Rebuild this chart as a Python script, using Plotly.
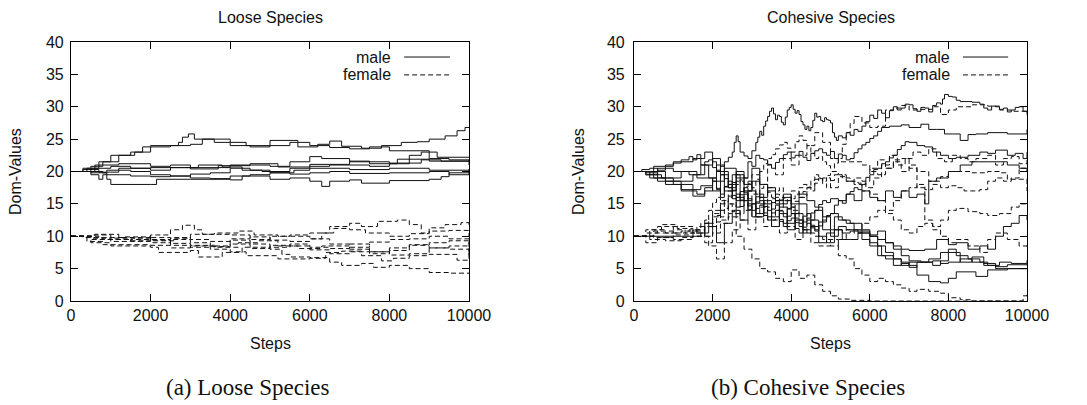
import plotly.graph_objects as go

# ---------------- data (step, value) breakpoints ----------------
STEP_TICKS = [0, 2000, 4000, 6000, 8000, 10000]
STEP_LABELS = ["0", "2000", "4000", "6000", "8000", "10000"]
DOM_TICKS = [0, 5, 10, 15, 20, 25, 30, 35, 40]

loose_male = [
    [(0,20),(300,20.5),(700,21.5),(1000,22.5),(1500,23),(1800,23.8),(2000,24),(2700,24.5),(2800,25.3),(2950,25.8),(3100,25),(3500,25),(4000,24.5),(4400,24),(5000,24.8),(5600,24.8),(5700,23.8),(6200,24.2),(6500,24.7),(6800,23.9),(7300,23.6),(7800,24),(8300,24.5),(8700,24.6),(9000,25),(9400,25.5),(9700,26.3),(9900,26.8),(10000,26.8)],
    [(0,20),(500,20.8),(800,21.5),(1200,22.5),(1600,23),(2000,23.8),(2500,24),(3000,24.2),(3300,25),(3600,24.5),(4000,24),(4500,23.8),(5000,24),(5500,24.5),(6000,24),(6500,23.7),(7000,23.5),(7500,23.8),(8000,23.2),(9000,23),(9200,22.2),(10000,22.2)],
    [(0,20),(600,21),(1200,21.2),(2000,20.8),(2500,21),(3000,20.6),(4000,21),(5000,20.8),(5500,21.5),(6000,22.3),(6300,22),(7000,21.5),(8000,21.2),(8500,22.5),(8800,23),(9000,22),(9500,21.8),(10000,21.5)],
    [(0,20),(400,20.5),(1000,20.8),(1500,20.5),(2000,20.2),(2500,20.6),(3200,21),(3800,20.7),(4300,20.2),(4800,20),(5500,20.5),(6000,20.8),(6500,21),(7000,21),(7500,20.8),(8000,21.3),(8800,21.8),(9300,21.6),(10000,21)],
    [(0,20),(500,19.8),(900,20.2),(1500,20),(2000,19.5),(2500,19.3),(3000,19.6),(3500,19.8),(4000,20.5),(4500,20.2),(5000,19.8),(5600,20.2),(6000,20.5),(7000,20.3),(8000,20.5),(9000,20.2),(10000,20.4)],
    [(0,20),(400,20),(800,19.8),(900,18.8),(1000,18),(2000,18),(2150,18.8),(3000,18.8),(4000,18.7),(4300,19.3),(5000,18.8),(5500,19),(6000,18.5),(6300,17.7),(6500,18.5),(7000,18.7),(7300,18.2),(8000,18.6),(9000,18.8),(9300,19.2),(9500,19.8),(10000,20)],
    [(0,20),(500,19.5),(700,18.8),(800,19.5),(1500,19.3),(2000,19.2),(2500,19.3),(3000,19),(3500,18.9),(4000,19.3),(4500,19.5),(5000,19.8),(5500,19.6),(6000,19.8),(6500,20),(7000,19.7),(8000,19.8),(9000,20),(9500,19.5),(10000,20.2)],
    [(0,20),(300,20.3),(700,19.9),(1200,20.5),(2000,20.6),(3000,20.4),(3700,20.9),(4500,21.2),(5200,20.7),(6000,21.1),(7000,21.6),(7500,21.2),(8200,21.9),(9000,21.6),(10000,21.6)],
]

loose_female = [
    [(0,10),(500,9.5),(1000,9.2),(1500,9.5),(2000,10.2),(2500,11),(2800,11.7),(3100,11),(3300,10.3),(4000,10.2),(4500,9.5),(5000,10),(5500,10.2),(6000,10.5),(6500,11.5),(7000,12),(7300,11.5),(7700,12.3),(8200,12.5),(8500,11.8),(8800,10.5),(9000,11.3),(9400,11.8),(9800,12.1),(10000,11.5)],
    [(0,10),(600,10.3),(1200,9.8),(2000,9.5),(2500,9.7),(3000,10.3),(3600,10.5),(4200,10.8),(4600,10.2),(5200,10),(6000,9.6),(6300,10.5),(6600,11.2),(7000,11),(7400,10.5),(8000,10),(8500,10.4),(9000,10.8),(9500,10.9),(10000,10)],
    [(0,10),(500,9),(1000,8.5),(2000,8.3),(2200,7.5),(3000,7.8),(3200,6.8),(3800,7.5),(4300,8.3),(5000,8),(5300,7.2),(5500,6.8),(6000,6.7),(6500,6),(6800,5.5),(7300,5.8),(7600,5.2),(8000,5.5),(8500,5),(9000,4.4),(9500,4.3),(10000,4.2)],
    [(0,10),(400,9.2),(800,8.7),(1500,8.7),(2000,8.6),(2500,8.2),(3000,8.5),(3500,8),(4000,7.6),(4400,7),(4800,7),(5200,6.5),(6000,6.6),(6400,7.5),(6800,7.7),(7300,7),(7800,6.2),(8100,6.6),(8500,7),(9000,7.2),(9700,6.3),(10000,8.2)],
    [(0,10),(300,9.8),(800,9.5),(1500,9.3),(2000,9.8),(2500,9.5),(3000,9),(3500,8.5),(4000,9.4),(4500,8.8),(5000,8.3),(5500,8.8),(6000,8.3),(6500,8.1),(7000,8.8),(7500,7.6),(8000,8.2),(8500,8.7),(9000,8.2),(9500,8),(10000,7.2)],
    [(0,10),(500,9.7),(1000,9.5),(1500,9.2),(2000,9),(2500,8.6),(3000,8.3),(3500,8.4),(4000,8.8),(4500,8.1),(5000,8.6),(5500,8.5),(6000,7.9),(6500,7.3),(7000,7.6),(7500,7.3),(8000,7.8),(8500,8.6),(9000,9),(9500,9.3),(10000,9.6)],
    [(0,10),(700,9.8),(1300,9.9),(2000,9.3),(2600,9.8),(3000,9.5),(3500,9.2),(4000,9.6),(4500,9.9),(5000,9.4),(5500,9.2),(6000,9.6),(6500,8.8),(7000,8.3),(7500,9.1),(8000,9.5),(8500,9.6),(9000,10),(9500,9.6),(10000,6.6)],
    [(0,10),(500,10.2),(1000,9.7),(1600,9.6),(2000,9.4),(2500,8.9),(3000,8.6),(3600,8.3),(4200,9),(4700,9.3),(5200,8.5),(5700,8.1),(6300,8.5),(7000,8),(7500,7.6),(8000,7.1),(8500,7.3),(9000,8.2),(9500,8.5),(10000,9.2)],
]

cohesive_male = [
    [(0,20),(200,20.3),(400,20.5),(600,20.2),(800,21),(1000,21.3),(1200,21.8),(1400,22.3),(1500,21.8),(1600,22.6),(1700,21),(1800,21.5),(1900,21.8),(2000,20.6),(2100,20),(2200,20.8),(2300,21.5),(2400,22.2),(2500,23),(2550,24.5),(2600,25.5),(2650,24.6),(2700,23),(2800,22.4),(2900,22),(3000,23.2),(3100,24.5),(3150,25.3),(3200,26.2),(3250,25.6),(3300,27),(3350,27.8),(3400,28.5),(3450,29.3),(3500,29.8),(3550,28.9),(3600,28),(3650,28.7),(3700,28.5),(3750,27.6),(3800,27.2),(3850,28.4),(3900,29.5),(3950,29.9),(4000,30.3),(4050,29.6),(4100,29),(4150,29.4),(4200,28.8),(4250,27.7),(4300,27.2),(4350,26.5),(4400,27),(4450,26.3),(4500,26.8),(4550,27.9),(4600,29),(4650,28.4),(4700,28.5),(4750,27.9),(4800,27.7),(4850,28.3),(4900,28),(4950,27.9),(5000,27.5),(5050,26),(5100,25.3),(5150,24.8),(5200,25.5),(5300,25.2),(5400,26),(5500,25.6),(5600,26.5),(5700,26.2),(5800,27),(5900,27.7),(6000,28.7),(6100,28.2),(6200,29.5),(6300,29),(6400,28.3),(6500,29.4),(6600,30),(6700,29.5),(6800,29.8),(6900,30.4),(7000,30.3),(7100,29.7),(7200,29.3),(7300,29.9),(7400,29.8),(7500,29.2),(7600,30.2),(7700,30.6),(7800,30.4),(7850,31.2),(7900,31.9),(8000,31.6),(8100,31.5),(8200,31),(8300,30.8),(8500,30.8),(8600,30.7),(8800,30.4),(8900,29.8),(9000,29.5),(9100,30.1),(9200,30),(9300,29.6),(9400,29.8),(9500,29.2),(9600,29.5),(9700,29.9),(9800,30),(9900,29.3),(10000,28.8)],
    [(0,20),(300,19.5),(700,19),(1200,20),(1600,19),(2000,18.5),(2300,20.5),(2600,19),(2900,21.5),(3000,20.8),(3100,22.5),(3200,22),(3300,21.8),(3400,21.1),(3500,20.5),(3600,21.4),(3700,22),(3800,22.6),(3900,23),(4000,22.1),(4100,22.5),(4200,23.1),(4300,22.2),(4400,21.7),(4500,22.8),(4600,23.2),(4700,23.5),(4800,22.9),(4900,22.5),(5000,23.1),(5100,22),(5200,22.7),(5300,22.5),(5400,21.8),(5500,22),(5600,22.9),(5700,23.5),(5800,24.1),(5900,24.5),(6000,25.1),(6100,25.5),(6200,26.2),(6300,26.8),(6500,27),(6800,27.2),(7000,26.8),(7300,27.3),(7500,26.5),(7700,26.5),(7900,25.8),(8100,25.8),(8300,24.8),(8500,25.7),(8700,25.8),(9000,26),(9500,25.8),(9800,25.8),(10000,26.5)],
    [(0,20),(500,20.8),(1000,21.5),(1500,22),(1800,23),(2000,21.5),(2100,20.2),(2200,19.5),(2300,18.9),(2400,17.5),(2500,18.3),(2600,16),(2700,16.9),(2800,17.5),(2900,15.8),(3000,15),(3100,16.1),(3200,16.5),(3300,14.6),(3400,14),(3500,15.2),(3600,15.5),(3700,13.9),(3800,13),(3900,14.2),(4000,14.5),(4100,12.8),(4200,12),(4300,13.1),(4400,13.5),(4500,11.7),(4600,11),(4700,12.2),(4800,12.5),(4900,13.2),(5000,13.5),(5100,14.8),(5200,15.5),(5300,15.1),(5400,16.5),(5500,16.9),(5600,17.5),(5700,17.2),(5800,18),(5900,19.1),(6000,19.5),(6100,20.3),(6200,20.5),(6300,21.2),(6400,21.5),(6500,22.1),(6600,22.5),(6700,23.4),(6800,24),(6900,24.6),(7000,24.5),(7200,24),(7400,23.8),(7600,23),(7800,22.5),(8000,22),(8200,22.2),(8500,22.5),(8800,23),(9000,22.8),(9200,23.3),(9500,22.5),(9700,22.8),(9900,22),(10000,23)],
    [(0,20),(300,19.8),(600,18.5),(1000,18),(1500,17.2),(1700,17.8),(2000,18.5),(2100,17.4),(2200,16.5),(2300,17.6),(2400,18),(2500,16.3),(2600,15.5),(2700,16.4),(2800,16.8),(2900,14.7),(3000,14),(3100,15.1),(3200,15.5),(3300,13.6),(3400,13),(3500,14.2),(3600,14.8),(3700,12.6),(3800,12),(3900,13.1),(4000,13.5),(4100,12.1),(4200,11.5),(4300,12.2),(4400,12.8),(4500,13.6),(4600,14),(4700,14.9),(4800,15.5),(4900,15.2),(5000,15.8),(5200,15.5),(5400,16.5),(5600,15.5),(5800,17),(6000,16),(6200,15.5),(6400,17),(6600,16),(6800,17),(7000,16),(7200,16.5),(7400,15),(7500,18.5),(7700,19),(8000,20),(8300,21),(8600,21.5),(9000,21.5),(9500,21),(9800,20.5),(10000,20)],
    [(0,20),(400,19),(800,18.5),(1200,17),(1600,16.5),(1800,17),(2000,19),(2100,17.2),(2200,16),(2300,17.7),(2400,18.5),(2500,15.8),(2600,14.5),(2700,15.6),(2800,16.5),(2900,14.1),(3000,13),(3100,14.3),(3200,14.8),(3300,13.2),(3400,12.5),(3500,13.6),(3600,14),(3700,12.3),(3800,11.5),(3900,12.4),(4000,12.8),(4100,11.2),(4200,10.5),(4300,11.4),(4400,12),(4500,11.3),(4600,10.8),(4700,11.6),(4800,12.2),(4900,13.1),(5000,13.5),(5200,12.5),(5400,12),(5600,11),(5800,10.8),(6000,10),(6200,9.5),(6400,9),(6600,8.5),(6800,8),(7000,7.8),(7400,8),(7700,9.5),(8000,8.7),(8200,9),(8500,8),(8800,8.5),(9000,8),(9200,10),(9400,11.5),(9600,12),(9800,13.2),(10000,12.5)],
    [(0,20),(300,19.5),(600,20.5),(1000,20),(1400,19.5),(1700,21),(1900,19),(2100,21),(2300,17),(2500,19.5),(2700,15.5),(2900,17),(3100,13.5),(3300,15),(3500,11.5),(3700,13.5),(3900,11),(4100,12.5),(4300,10.5),(4500,11.5),(4700,9),(4900,10.5),(5100,13),(5300,12.5),(5500,12),(5800,11),(6000,10),(6200,8.5),(6400,7.5),(6600,6.5),(6800,6),(7000,5.5),(7200,4),(7500,3),(7800,2.8),(8000,3.5),(8200,4.5),(8500,4.5),(8700,3.8),(9000,4.8),(9500,5),(10000,5)],
    [(0,10),(1500,10),(1700,10.5),(1900,11.5),(2100,9),(2300,12),(2500,14),(2700,12.5),(2900,15),(3100,13),(3300,15.5),(3500,13),(3700,14.5),(3900,12),(4100,13.5),(4300,11),(4500,12.5),(4700,10),(4900,9),(5100,11),(5300,10.5),(5500,10.8),(5800,9.5),(6000,9),(6200,7),(6400,6.5),(6600,5.5),(6800,5.8),(7000,5.2),(7200,6),(7500,6.5),(7800,7.5),(8000,8),(8200,7),(8500,6.5),(8800,6),(9000,5.5),(9300,6),(9600,5.8),(10000,6.3)],
    [(0,20),(500,19),(1000,18.5),(1500,19.5),(1800,21),(2000,22),(2200,20),(2400,18),(2600,19.5),(2800,17),(3000,18.5),(3200,16),(3400,17.5),(3600,15),(3800,16),(4000,13.5),(4200,15),(4400,12.5),(4600,14),(4800,11),(5000,10),(5200,11.5),(5400,11),(5700,10.5),(6000,8.5),(6300,7),(6600,6.5),(6800,5.5),(7000,6),(7300,6),(7600,5.5),(7800,6.2),(8000,7.5),(8300,6),(8600,6.8),(8900,5.8),(9200,5.3),(9500,5.6),(10000,5.5)],
    [(0,20),(800,18),(1200,17.2),(1500,16.2),(1800,17.5),(2000,17),(2200,19.5),(2400,17.5),(2600,20),(2800,18),(3000,20.5),(3200,18),(3400,17),(3600,15.5),(3800,16.5),(4000,15),(4200,16.5),(4400,15.5),(4600,14.5),(4800,13),(5000,11),(5300,9.5),(5500,9.5),(5700,10.5),(6000,10.2),(6200,10.8),(6400,9),(6600,8),(6800,7),(7000,6.2),(7300,6),(7600,6.2),(7800,5.8),(8000,6),(8300,6.5),(8600,6),(8900,5.5),(9200,5),(9600,5),(10000,5)],
]

cohesive_female = [
    [(0,10),(300,10.5),(600,11.5),(1000,11),(1300,10.5),(1600,11.5),(1800,10),(2000,12),(2100,13.2),(2200,14),(2300,15.3),(2400,16),(2500,17.1),(2600,18),(2700,18.7),(2800,19),(2900,18.1),(3000,17.5),(3100,18.8),(3200,20),(3300,21.2),(3400,22),(3500,22.6),(3600,23.5),(3700,24.1),(3800,24.5),(3900,23.6),(4000,23),(4100,24.6),(4200,25.5),(4300,24.8),(4400,24),(4500,22.8),(4600,22),(4700,22.3),(4800,21.5),(4900,20.9),(5000,20.5),(5100,21.3),(5200,22),(5300,24.2),(5400,26),(5500,27.4),(5600,28.5),(5800,27.5),(6000,26.8),(6200,27),(6400,29.5),(6600,29.8),(6800,30.2),(7000,29.5),(7300,29.6),(7600,30),(7800,28.8),(8000,29.5),(8200,30),(8600,30.3),(9000,30.1),(9300,29.5),(9600,29.3),(10000,29.5)],
    [(0,10),(500,9.8),(1000,9.5),(1500,10.5),(1800,9),(2000,10.5),(2200,12),(2400,13),(2600,10),(2800,8),(3000,6.5),(3200,5),(3400,4.5),(3600,3.5),(3800,3),(4000,4.8),(4200,3.5),(4400,4),(4600,2.5),(4800,1.5),(5000,0.8),(5200,0.3),(5500,0.1),(6000,0),(10000,0)],
    [(0,10),(400,11),(800,10.5),(1200,10.8),(1600,10),(1900,8.5),(2100,6.5),(2300,9),(2500,11),(2700,12.5),(2900,11),(3100,13),(3300,11.5),(3500,12.5),(3700,10.5),(3900,11.5),(4100,9.5),(4300,11),(4500,9),(4700,8.5),(5000,9.5),(5200,7),(5400,6.5),(5600,5),(5800,4),(6000,3),(6200,3.5),(6400,3),(6600,2.5),(6800,2),(7000,1.5),(7200,1.8),(7500,1.5),(7800,1.2),(8000,0.5),(8300,0.2),(8600,0),(9800,0),(9900,0.8),(10000,1)],
    [(0,10),(300,9),(600,9.8),(1000,10.2),(1400,11),(1700,12),(1900,14),(2000,15.2),(2100,16),(2200,15.6),(2300,15),(2400,16.2),(2500,17),(2600,16.5),(2700,16),(2800,17.6),(2900,18.5),(3000,17.3),(3100,16.5),(3200,17.4),(3300,18),(3400,16.8),(3500,16),(3600,17),(3700,17.5),(3800,15.9),(3900,15),(4000,15.8),(4100,16.5),(4200,17.5),(4300,18),(4400,17.6),(4500,17),(4600,18.2),(4700,19),(4800,18.1),(4900,17.5),(5000,18.6),(5100,19.5),(5300,19),(5500,18.5),(5700,18.2),(5900,17.5),(6100,19),(6300,21),(6500,22.5),(6700,21),(6900,22),(7100,23),(7300,22.5),(7500,23.5),(7700,22),(7900,21.5),(8100,22.5),(8300,22),(8500,21.5),(8700,22),(9000,22.5),(9200,21),(9400,22),(9600,22.3),(9800,21.2),(10000,22)],
    [(0,10),(500,10.5),(1000,11.5),(1500,10.5),(1800,12),(2000,14),(2200,12.5),(2400,15),(2600,13.5),(2800,15.5),(3000,13),(3200,14.5),(3400,12.5),(3600,14),(3800,15.5),(4000,17),(4200,16),(4400,17.5),(4600,18.8),(4800,19),(5000,17.5),(5200,19.2),(5400,18.5),(5600,19),(5800,18.5),(6000,20.5),(6200,21.8),(6400,20.5),(6600,21.8),(6800,22),(7000,20.5),(7200,17.5),(7400,12.5),(7600,11.5),(7800,12.5),(8000,14),(8200,14.3),(8500,13.8),(8800,13.5),(9000,13.2),(9300,13.5),(9600,14.5),(9800,15),(10000,15)],
    [(0,10),(400,9.5),(800,9.3),(1200,9.8),(1500,10),(1800,12),(2000,13.5),(2200,15),(2400,13.5),(2600,16),(2800,14),(3000,16.5),(3200,15),(3400,17.5),(3600,16),(3800,15.5),(4000,14),(4200,12.5),(4400,10.5),(4600,10),(4800,9.5),(5000,8.5),(5200,9.5),(5400,11),(5600,10.5),(5800,12),(6000,13),(6200,14),(6400,13.5),(6600,12.5),(6800,11),(7000,10.5),(7200,11.5),(7400,12),(7600,11),(7800,10),(8000,9),(8200,9.5),(8500,8.5),(8800,7.5),(9000,9.5),(9200,10.5),(9500,9.5),(9800,8.5),(10000,8)],
    [(0,10),(300,11),(700,11.8),(1100,11.2),(1500,10.8),(1800,11.5),(2000,13),(2200,15.5),(2400,17),(2600,18.5),(2800,17),(3000,19.5),(3200,18),(3400,21),(3600,19.5),(3800,22),(4000,21),(4200,22.5),(4400,24),(4600,26),(4800,24.5),(5000,22),(5200,21.5),(5500,21.5),(5800,21),(6000,20),(6200,19.5),(6400,20.5),(6600,21.5),(6800,20),(7000,21),(7200,20),(7500,18.5),(7800,19.2),(8000,20),(8300,20),(8600,19.8),(9000,20),(9300,19.8),(9500,18.8),(9800,18.8),(10000,17)],
    [(0,10),(500,10.8),(1000,10.5),(1500,11),(1800,12.5),(1900,11.6),(2000,11),(2100,12.2),(2200,13),(2300,14.3),(2400,15),(2500,13.8),(2600,13),(2700,14.6),(2800,15.5),(2900,14.6),(3000,14),(3100,15.3),(3200,16),(3300,15.1),(3400,14.5),(3500,15.8),(3600,16.5),(3700,15.6),(3800,15),(3900,14.3),(4000,14.5),(4100,15.4),(4200,16),(4300,16.9),(4400,17.5),(4500,18.6),(4600,19.5),(4700,18.9),(4800,18.5),(4900,19.4),(5000,20),(5200,19.5),(5400,18.5),(5600,18),(5800,17),(6000,16.5),(6200,15.5),(6400,14),(6600,15.5),(6800,17),(7000,17.5),(7200,18),(7400,17.2),(7600,18),(7800,17.5),(8000,17.8),(8200,17.5),(8400,17),(8600,17),(8800,17.2),(9000,18.5),(9200,19),(9400,18.5),(9600,19),(9800,20.5),(10000,20)],
]

PANEL_TITLES = ["Loose Species", "Cohesive Species"]
CAPTIONS = ["(a) Loose Species", "(b) Cohesive Species"]
LEGEND_LABELS = ["male", "female"]

# ---------------- figure ----------------
W, H = 1087, 405
OFF = 8  # page body margin: the figure is drawn 8px in from the window's corner
SANS = "Liberation Sans, Arial, sans-serif"
SERIF = "Liberation Serif, DejaVu Serif, serif"
DASH = "5px,3px"


def px(xp):
    return (xp - OFF) / W


def py(yp):
    return 1 - (yp - OFF) / H


fig = go.Figure()


def add_series(series_list, axis_suffix, dashed):
    for s in series_list:
        xs = [p[0] for p in s]
        ys = [p[1] for p in s]
        fig.add_trace(go.Scatter(
            x=xs, y=ys, mode="lines", line_shape="hv",
            line=dict(color="#111111", width=1.0, dash=DASH if dashed else "solid"),
            xaxis="x" + axis_suffix, yaxis="y" + axis_suffix,
            showlegend=False, hoverinfo="skip"))


add_series(loose_male, "", False)
add_series(loose_female, "", True)
add_series(cohesive_male, "2", False)
add_series(cohesive_female, "2", True)

left_box = (71, 469)
right_box = (634, 1027)
top_px, bot_px = 42, 301
ydom = [py(bot_px), py(top_px)]

axis_common = dict(
    showgrid=False, zeroline=False, showline=True, linecolor="black", automargin=False,
    linewidth=1.2, mirror="ticks", ticks="inside", ticklen=7, tickwidth=1.2,
    tickcolor="black", tickfont=dict(family=SANS, size=16, color="#111"),
)

fig.update_layout(
    width=W, height=H, paper_bgcolor="white", plot_bgcolor="white",
    margin=dict(l=0, r=0, t=0, b=0, autoexpand=False), showlegend=False,
    xaxis=dict(axis_common, domain=[px(left_box[0]), px(left_box[1])], range=[0, 10000],
               tickvals=STEP_TICKS, ticktext=STEP_LABELS, anchor="y"),
    yaxis=dict(axis_common, domain=ydom, range=[0, 40], tickvals=DOM_TICKS, anchor="x",
               ticklabelstandoff=3),
    xaxis2=dict(axis_common, domain=[px(right_box[0]), px(right_box[1])], range=[0, 10000],
                tickvals=STEP_TICKS, ticktext=STEP_LABELS, anchor="y2"),
    yaxis2=dict(axis_common, domain=ydom, range=[0, 40], tickvals=DOM_TICKS, anchor="x2",
                ticklabelstandoff=5),
)

annotations = []
shapes = []
for i, (box, xr) in enumerate([(left_box, "x"), (right_box, "x2")]):
    cx = (box[0] + box[1]) / 2
    annotations.append(dict(text=PANEL_TITLES[i], x=px(cx), y=py(17), xref="paper", yref="paper",
                            showarrow=False, font=dict(family=SANS, size=16, color="#111"),
                            xanchor="center", yanchor="middle"))
    annotations.append(dict(text="Steps", x=px(cx), y=py(343), xref="paper", yref="paper",
                            showarrow=False, font=dict(family=SANS, size=16, color="#111"),
                            xanchor="center", yanchor="middle"))
    ytx = 15 if i == 0 else 578
    annotations.append(dict(text="Dom-Values", x=px(ytx), y=py(172), xref="paper", yref="paper",
                            showarrow=False, textangle=-90, font=dict(family=SANS, size=16, color="#111"),
                            xanchor="center", yanchor="middle"))
    capx = 248 if i == 0 else 808
    annotations.append(dict(text=CAPTIONS[i], x=px(capx), y=py(387), xref="paper", yref="paper",
                            showarrow=False, font=dict(family=SERIF, size=23, color="#111"),
                            xanchor="center", yanchor="middle"))
    for j, lab in enumerate(LEGEND_LABELS):
        ly = 0.942 if j == 0 else 0.873
        annotations.append(dict(text=lab, x=0.809, y=ly, xref=xr + " domain", yref="y" + xr[1:] + " domain",
                                showarrow=False, font=dict(family=SANS, size=16, color="#111"),
                                xanchor="right", yanchor="middle"))
        shapes.append(dict(type="line", xref=xr + " domain", yref="y" + xr[1:] + " domain",
                           x0=0.837, x1=0.952, y0=ly, y1=ly,
                           line=dict(color="#111", width=1.0, dash="solid" if j == 0 else DASH)))

fig.update_layout(annotations=annotations, shapes=shapes)
fig.write_html("out.html")
